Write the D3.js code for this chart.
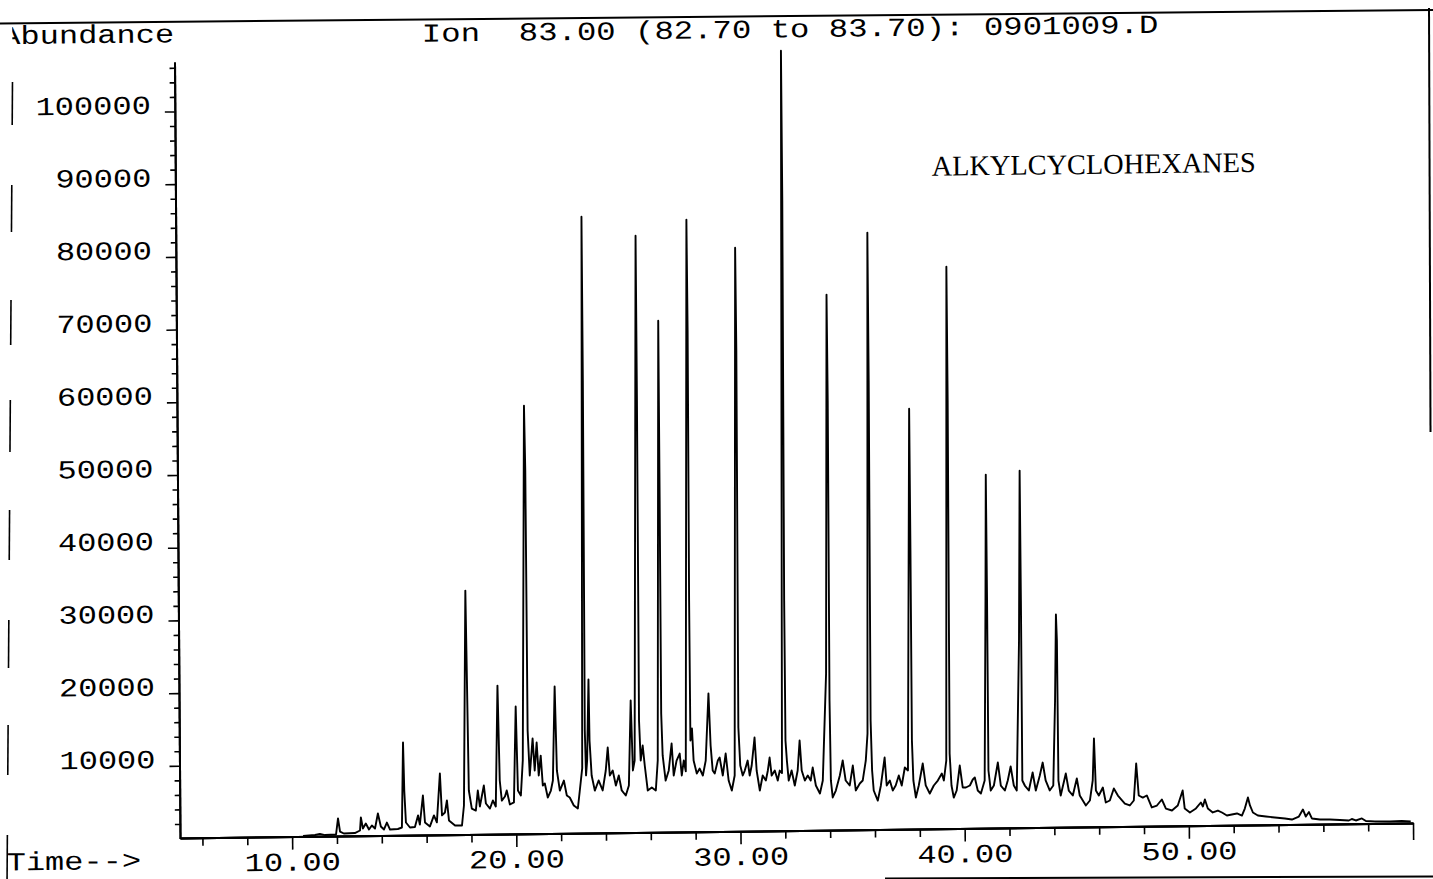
<!DOCTYPE html>
<html><head><meta charset="utf-8">
<script src="https://cdn.jsdelivr.net/npm/d3@7"></script>
<style>html,body{margin:0;padding:0;background:#fff;} svg{display:block;background:#fff;}</style>
</head><body>
<svg id="chart" width="1433" height="879"></svg>
<script>
// ---- data (retention time in min, abundance) ----
const retentionTime = [
10.49,11.02,11.24,11.47,11.96,12.05,12.14,12.31,12.80,13.03,13.07,13.16,13.29,13.43,13.56,13.70,13.83,13.96,14.10,14.23,14.37,14.72,14.90,14.96,15.01,15.08,15.26,15.48,15.62,15.70,15.84,15.93,16.15,16.33,16.46,16.60,16.69,16.82,16.91,17.00,17.27,17.58,17.67,17.76,17.80,17.89,
18.02,18.20,18.29,18.38,18.56,18.65,18.83,18.96,19.09,19.18,19.27,19.36,19.50,19.58,19.72,19.90,19.99,20.08,20.21,20.30,20.40,20.45,20.52,20.61,20.74,20.83,20.92,21.01,21.10,21.19,21.28,21.41,21.55,21.64,21.73,21.82,21.95,22.13,22.26,22.39,22.57,22.75,22.84,22.95,22.99,23.03,23.07,23.12,23.17,23.24,23.28,23.37,23.51,23.68,23.86,
24.00,24.09,24.18,24.31,24.45,24.58,24.71,24.89,25.03,25.12,25.21,25.29,25.40,25.44,25.49,25.56,25.65,25.74,25.87,26.05,26.23,26.32,26.40,26.44,26.48,26.54,26.67,26.81,26.94,27.03,27.16,27.30,27.39,27.48,27.57,27.67,27.71,27.74,27.78,27.85,27.92,
28.06,28.19,28.33,28.46,28.59,28.68,28.77,28.86,29.00,29.08,29.22,29.35,29.48,29.62,29.75,29.84,29.88,29.92,30.00,30.11,30.20,30.33,30.42,30.51,30.64,30.73,30.87,31.00,31.14,31.23,31.31,31.40,31.54,31.67,31.76,31.86,31.91,31.95,31.98,
32.02,32.08,32.16,32.29,32.43,32.56,32.65,32.74,32.88,33.01,33.14,33.23,33.37,33.55,33.68,33.84,33.91,33.95,33.99,34.04,34.12,34.26,34.44,34.57,34.70,34.88,35.02,35.15,35.33,35.46,35.60,35.68,35.74,35.78,35.82,35.88,35.95,
36.13,36.27,36.44,36.53,36.67,36.80,36.93,37.07,37.20,37.34,37.48,37.58,37.62,37.66,37.72,37.83,37.96,38.14,38.27,38.45,38.63,38.81,38.99,39.08,39.19,39.26,39.30,39.34,39.42,39.52,39.65,39.79,39.92,
40.06,40.24,40.37,40.46,40.59,40.73,40.90,40.96,40.99,41.03,41.07,41.17,41.31,41.49,41.62,41.80,41.93,42.06,42.20,42.33,42.45,42.50,42.54,42.58,42.69,42.87,43.04,43.18,43.36,43.49,43.62,43.80,43.96,44.05,44.10,44.14,44.19,44.29,44.52,44.65,44.83,
45.01,45.14,45.41,45.59,45.72,45.78,45.86,45.99,46.17,46.30,46.48,46.66,46.84,47.15,47.37,47.55,47.66,47.77,47.95,48.13,48.35,48.58,48.80,48.98,49.25,49.51,49.73,49.82,
50.05,50.32,50.54,50.63,50.72,50.85,51.07,51.30,51.48,51.70,51.92,52.15,52.37,52.50,52.64,52.73,52.86,53.08,53.44,53.84,54.29,54.60,54.91,55.09,55.22,55.36,55.49,55.85,56.29,56.74,57.14,57.27,57.45,57.72,57.90,58.30,58.97,59.50,59.90
];
const abundance = [
140,260,390,230,290,2490,690,410,460,800,2590,1070,1750,920,1470,1050,3110,1320,900,1850,880,940,1140,12830,6200,1820,1130,1180,2760,1510,5500,1790,1240,2750,1790,8500,2740,3130,4790,2030,1330,1320,4060,33620,25370,6120,
3630,3350,6100,3900,6780,4300,3600,4700,3870,20500,7440,4680,5230,6050,4120,4400,17590,6050,5340,10170,58960,50000,14270,8080,13160,8760,12600,8070,10800,6690,6950,5020,5980,7350,20270,8720,5960,7330,5270,4990,3880,3460,5930,9000,84850,62300,14180,8000,10040,21180,12790,7970,5900,7280,5900,
8640,11800,7950,8630,6560,7930,5870,5170,6540,18220,8600,9960,82150,59460,15460,9950,12010,9260,5820,6220,5800,9930,70420,45650,16380,10610,7160,8540,12240,7840,9890,10850,7830,9880,8400,84270,69000,31890,12620,14270,9870,
8080,8750,7790,9840,19050,11900,8460,8050,9830,10240,7760,10770,7060,5680,7740,80330,66170,14330,9100,7720,8400,9770,7710,9080,12930,8390,5630,7690,6990,8370,10150,7670,8350,6980,8340,8000,107340,86720,31720,
12460,9710,6950,8330,6260,8320,12440,8310,6930,7610,6920,8700,6220,5120,6900,21610,73720,59140,17880,6890,4550,5500,7560,9620,6860,6170,8910,5480,6430,6830,9580,13300,82180,61820,15070,8200,5440,
4050,6120,9960,6110,6790,5410,6090,7460,6080,8550,8140,57900,38400,12250,6750,4410,6050,9070,6050,4930,6030,6700,7660,6700,9440,77370,58950,10400,6000,4340,5300,8730,5710,
5700,5970,6790,7060,5260,4850,6630,31350,48700,31350,8000,5240,5930,9080,5910,5220,6590,8510,5890,5200,25820,49190,31320,6570,5870,5180,7650,5170,7230,9000,6530,5150,5830,17510,29340,25760,6510,4440,7450,5110,4420,
6750,4410,3020,3700,6450,12220,5070,4380,5470,3400,3670,5310,4340,3230,2950,3630,8710,4310,4020,4300,2640,2900,3720,2470,2190,2870,4920,2440,
1890,2430,3240,2690,3650,2400,1850,2110,1830,1410,1540,1670,1380,2340,3850,2750,1780,1360,1210,1060,900,750,1150,2110,1140,1750,860,710,690,600,520,720,510,780,420,340,310,360,280
];
const xMajorTicks = [10, 20, 30, 40, 50];
const xMinorTicks = [6, 8, 12, 14, 16, 18, 22, 24, 26, 28, 32, 34, 36, 38, 42, 44, 46, 48, 52, 54, 56, 58];
const xEndTick = [60];
const yMajorTicks = [10000, 20000, 30000, 40000, 50000, 60000, 70000, 80000, 90000, 100000];
const yMinorTicks = d3.range(2000, 106001, 2000).filter(v => v % 10000 !== 0);
const titleText = "Ion  83.00 (82.70 to 83.70): 0901009.D";
const yTitle = "Abundance";
const xTitle = "Time-->";
const annotation = "ALKYLCYCLOHEXANES";

const trace = retentionTime.map((t, i) => [t, abundance[i]]);

const MONO = "'Liberation Mono','DejaVu Sans Mono','Courier New',monospace";
const ADV = 19.2;

const svg = d3.select("#chart");

// page frame (scan borders)
const frame = svg.append("g").attr("stroke", "#000").attr("fill", "none");
frame.append("line").attr("x1", 0).attr("y1", 23.5).attr("x2", 1433).attr("y2", 10).attr("stroke-width", 2);
frame.append("line").attr("x1", 1429).attr("y1", 8).attr("x2", 1430.5).attr("y2", 432).attr("stroke-width", 2);
frame.append("line").attr("x1", 885).attr("y1", 878.5).attr("x2", 1433).attr("y2", 876.5).attr("stroke-width", 2);
[[82,125],[185,232],[300,345],[400,452],[510,560],[620,668],[725,775],[835,879]].forEach(s => {
  frame.append("line")
    .attr("x1", 12.5 - 0.0068 * (s[0] - 80)).attr("y1", s[0])
    .attr("x2", 12.5 - 0.0068 * (s[1] - 80)).attr("y2", s[1])
    .attr("stroke-width", 1.6);
});

// slightly skewed plotting groups (the scan is not square)
const g = svg.append("g").attr("transform", "matrix(1,-0.01217,0.0071,1,-5.94,2.19)");
const gTrace = svg.append("g").attr("transform", "matrix(1,-0.01217,0.003,1,-2.51,2.19)");

const x = d3.scaleLinear().domain([5, 60]).range([180, 1413]);
const y = d3.scaleLinear().domain([0, 106800]).range([838.5, 62]);

function styleMono(sel, str, adv) {
  sel.text(str)
    .attr("font-family", MONO)
    .attr("font-size", 26)
    .attr("fill", "#000")
    .attr("textLength", str.length * (adv || ADV))
    .attr("lengthAdjust", "spacingAndGlyphs")
    .style("white-space", "pre");
}

// x axis
const xAxisG = g.append("g").attr("transform", "translate(0,838)");
xAxisG.append("g").call(d3.axisBottom(x).tickValues(xMinorTicks).tickSize(8).tickSizeOuter(0).tickFormat(""));
xAxisG.append("g").call(d3.axisBottom(x).tickValues(xEndTick).tickSize(17).tickSizeOuter(0).tickFormat(""));
const xMaj = xAxisG.append("g").call(d3.axisBottom(x).tickValues(xMajorTicks).tickSize(13).tickSizeOuter(0).tickFormat(d3.format(".2f")));
xAxisG.selectAll(".domain").attr("stroke", "#000").attr("stroke-width", 2);
xAxisG.selectAll(".tick line").attr("stroke", "#000").attr("stroke-width", 1.6);
xMaj.selectAll(".tick text").each(function(d) {
  const s = d3.format(".2f")(d);
  const t = d3.select(this);
  styleMono(t, s);
  t.attr("text-anchor", "start").attr("x", -s.length * ADV / 2).attr("y", 34).attr("dy", 0);
});

// y axis
const yAxisG = g.append("g").attr("transform", "translate(180,0)");
yAxisG.append("g").call(d3.axisLeft(y).tickValues(yMinorTicks).tickSize(5).tickSizeOuter(0).tickFormat(""));
const yMaj = yAxisG.append("g").call(d3.axisLeft(y).tickValues(yMajorTicks).tickSize(10).tickSizeOuter(0).tickFormat(d3.format("d")));
yAxisG.selectAll(".domain").attr("stroke", "#000").attr("stroke-width", 2);
yAxisG.selectAll(".tick line").attr("stroke", "#000").attr("stroke-width", 1.6);
yMaj.selectAll(".tick text").each(function(d) {
  const s = String(d);
  const t = d3.select(this);
  styleMono(t, s);
  t.attr("text-anchor", "start").attr("x", -24 - s.length * ADV).attr("y", 1.5).attr("dy", 0);
});

// trace
const line = d3.line().x(d => x(d[0])).y(d => y(d[1]));
gTrace.append("path").datum(trace)
  .attr("d", line)
  .attr("fill", "none")
  .attr("stroke", "#000")
  .attr("stroke-width", 1.9)
  .attr("stroke-linejoin", "round");

// texts
const defs = svg.append("defs");
defs.append("clipPath").attr("id", "abClip").attr("clipPathUnits", "userSpaceOnUse")
  .append("rect").attr("x", 18).attr("y", 0).attr("width", 400).attr("height", 100);
styleMono(g.append("text").attr("x", 7).attr("y", 42.2).attr("clip-path", "url(#abClip)"), yTitle);
styleMono(g.append("text").attr("x", 427.5).attr("y", 44.8), titleText, 19.38);
styleMono(g.append("text").attr("x", 6.5).attr("y", 868.3), xTitle);
g.append("text").attr("x", 936.5).attr("y", 185)
  .attr("font-family", "'Liberation Serif','Times New Roman',serif")
  .attr("font-size", 28.5)
  .attr("textLength", 324).attr("lengthAdjust", "spacingAndGlyphs")
  .attr("fill", "#000")
  .text(annotation);
</script>
</body></html>
